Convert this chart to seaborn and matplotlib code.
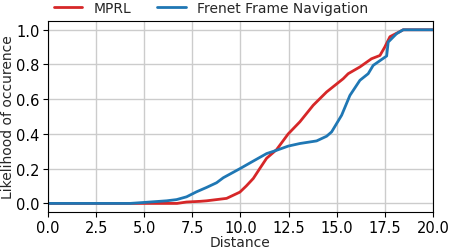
import pandas as pd
import matplotlib
matplotlib.use("Agg")
import matplotlib.pyplot as plt
import seaborn as sns

# MPRL curve (distance, likelihood)
mprl_x = [0.0, 4.0, 6.7, 7.2, 7.9, 8.24, 9.28, 9.97, 10.3, 10.67, 11.0, 11.36, 11.88,
          12.48, 13.09, 13.78, 14.48, 15.34, 15.6, 16.21, 16.81, 17.25, 17.5, 17.77,
          18.29, 18.46, 20.0]
mprl_y = [0.0, 0.0, 0.0, 0.008, 0.012, 0.015, 0.029, 0.065, 0.1, 0.144, 0.2, 0.26, 0.31,
          0.40, 0.47, 0.565, 0.642, 0.718, 0.747, 0.786, 0.833, 0.852, 0.9, 0.96,
          0.99, 1.0, 1.0]

# Frenet Frame Navigation curve
ffn_x = [0.0, 4.26, 5.04, 6.16, 6.68, 7.2, 7.72, 8.24, 8.76, 9.11, 9.97, 10.75, 11.36,
         11.88, 12.48, 13.09, 13.96, 14.48, 14.74, 15.26, 15.69, 16.21, 16.64, 16.9,
         17.6, 17.68, 18.11, 18.46, 20.0]
ffn_y = [0.0, 0.0, 0.006, 0.015, 0.022, 0.038, 0.067, 0.092, 0.119, 0.148, 0.2, 0.249,
         0.287, 0.306, 0.33, 0.345, 0.36, 0.387, 0.412, 0.508, 0.622, 0.709, 0.747,
         0.795, 0.849, 0.929, 0.977, 1.0, 1.0]

df = pd.concat([
    pd.DataFrame({"Distance": mprl_x, "Likelihood": mprl_y, "Method": "MPRL"}),
    pd.DataFrame({"Distance": ffn_x, "Likelihood": ffn_y, "Method": "Frenet Frame Navigation"}),
], ignore_index=True)

sns.set_style("ticks")
plt.rcParams["font.family"] = ["DejaVu Sans"]

fig = plt.figure(figsize=(4.49, 2.51), dpi=100)
ax = fig.add_axes([0.107, 0.151, 0.857, 0.761])
sns.lineplot(data=df, x="Distance", y="Likelihood", hue="Method",
             palette=["#d62728", "#1f77b4"], linewidth=2, ax=ax, sort=False,
             estimator=None)
ax.grid(True, color="#cccccc", linewidth=1)
ax.set_xlim(0, 20)
ax.set_ylim(-0.05, 1.05)
ax.set_xticks([0, 2.5, 5, 7.5, 10, 12.5, 15, 17.5, 20])
ax.set_yticks([0, 0.2, 0.4, 0.6, 0.8, 1.0])
ax.tick_params(labelsize=10.5, colors="black", length=3.5, pad=2.5)
for s in ax.spines.values():
    s.set_color("black")
    s.set_linewidth(0.8)
ax.set_xlabel("Distance", fontsize=10, labelpad=0)
ax.set_ylabel("Likelihood of occurence", fontsize=10, labelpad=1)
ax.legend(title=None, loc="lower left", bbox_to_anchor=(0.0, 1.005), ncol=2,
          frameon=False, fontsize=10, columnspacing=1.9, handlelength=2.05,
          borderaxespad=0)
fig.savefig("out.png", dpi=100)
